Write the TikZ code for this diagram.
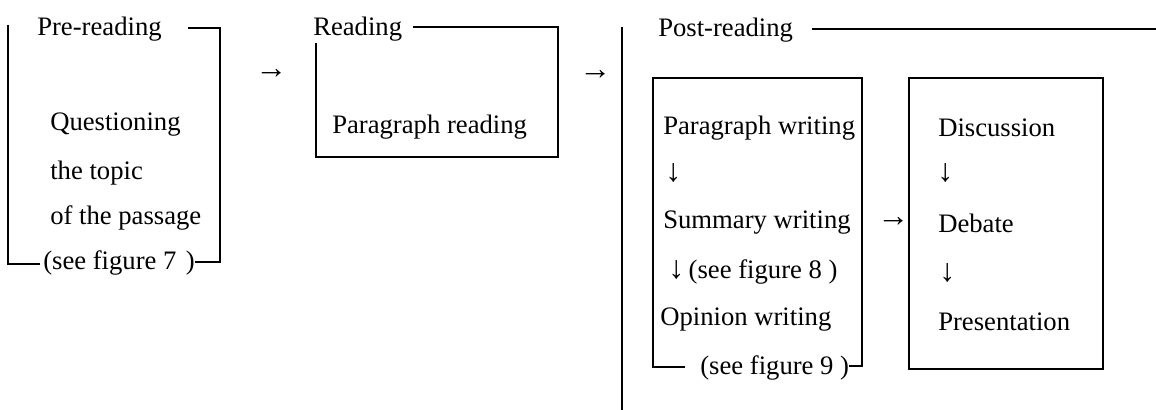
\documentclass[tikz,border=0pt]{standalone}
\usepackage{fontspec}
\setmainfont{Liberation Serif}
\begin{document}
\begin{tikzpicture}[x=0.75pt,y=-0.75pt,
  lbl/.style={anchor=west,inner sep=0pt,font=\fontsize{20}{24}\selectfont},
  arr/.style={anchor=west,inner sep=0pt,font=\fontsize{24}{28}\selectfont},
  frame/.style={line width=1.8pt}]
\useasboundingbox (0,0) rectangle (1156,410);
% Pre-reading
\node[lbl] (pre) at (37,29) {Pre-reading};
\node[lbl] (q1) at (50,125) {Questioning};
\node[lbl] (q2) at (50,173) {the topic};
\node[lbl] (q3) at (50,218) {of the passage};
\node[lbl] (f7) at (43,263) {(see figure 7\hspace{0.35em})};
\draw[frame] (188,28) -- (220,28) -- (220,262) -- (f7.east |- 0,262);
\draw[frame] (8,25) -- (8,264) -- (40,264);
\node[arr] (a1) at (255,74) {→};
% Reading
\node[lbl] (rd) at (313,29) {Reading};
\node[lbl] (pr) at (332,127) {Paragraph reading};
\draw[frame] (413,27) -- (558,27) -- (558,157) -- (316,157) -- (316,43);
\node[arr] (a2) at (579,75) {→};
% Post-reading
\node[lbl] (post) at (658,30) {Post-reading};
\draw[frame] (622,27) -- (622,410);
\draw[frame] (812,29) -- (1156,29);
\node[lbl] (pw) at (663,128) {Paragraph writing};
\node[arr] (d1) at (665,173) {↓};
\node[lbl] (sw) at (663,223) {Summary writing};
\node[lbl] (f8) at (668,272) {{\fontsize{24}{28}\selectfont ↓}\,(see figure 8 )};
\node[lbl] (ow) at (660,320) {Opinion writing};
\node[lbl] (f9) at (700,368) {(see figure 9 )};
\draw[frame] (685,367) -- (653,367) -- (653,78) -- (862,78) -- (862,366) -- (f9.east |- 0,366);
\node[arr] (a3) at (877,222) {→};
\node[lbl] (ds) at (938,128) {Discussion};
\node[arr] (d2) at (937,173) {↓};
\node[lbl] (db) at (938,223) {Debate};
\node[arr] (d3) at (939,273) {↓};
\node[lbl] (ps) at (938,322) {Presentation};
\draw[frame] (909,78) rectangle (1103,369);
\end{tikzpicture}
\end{document}
